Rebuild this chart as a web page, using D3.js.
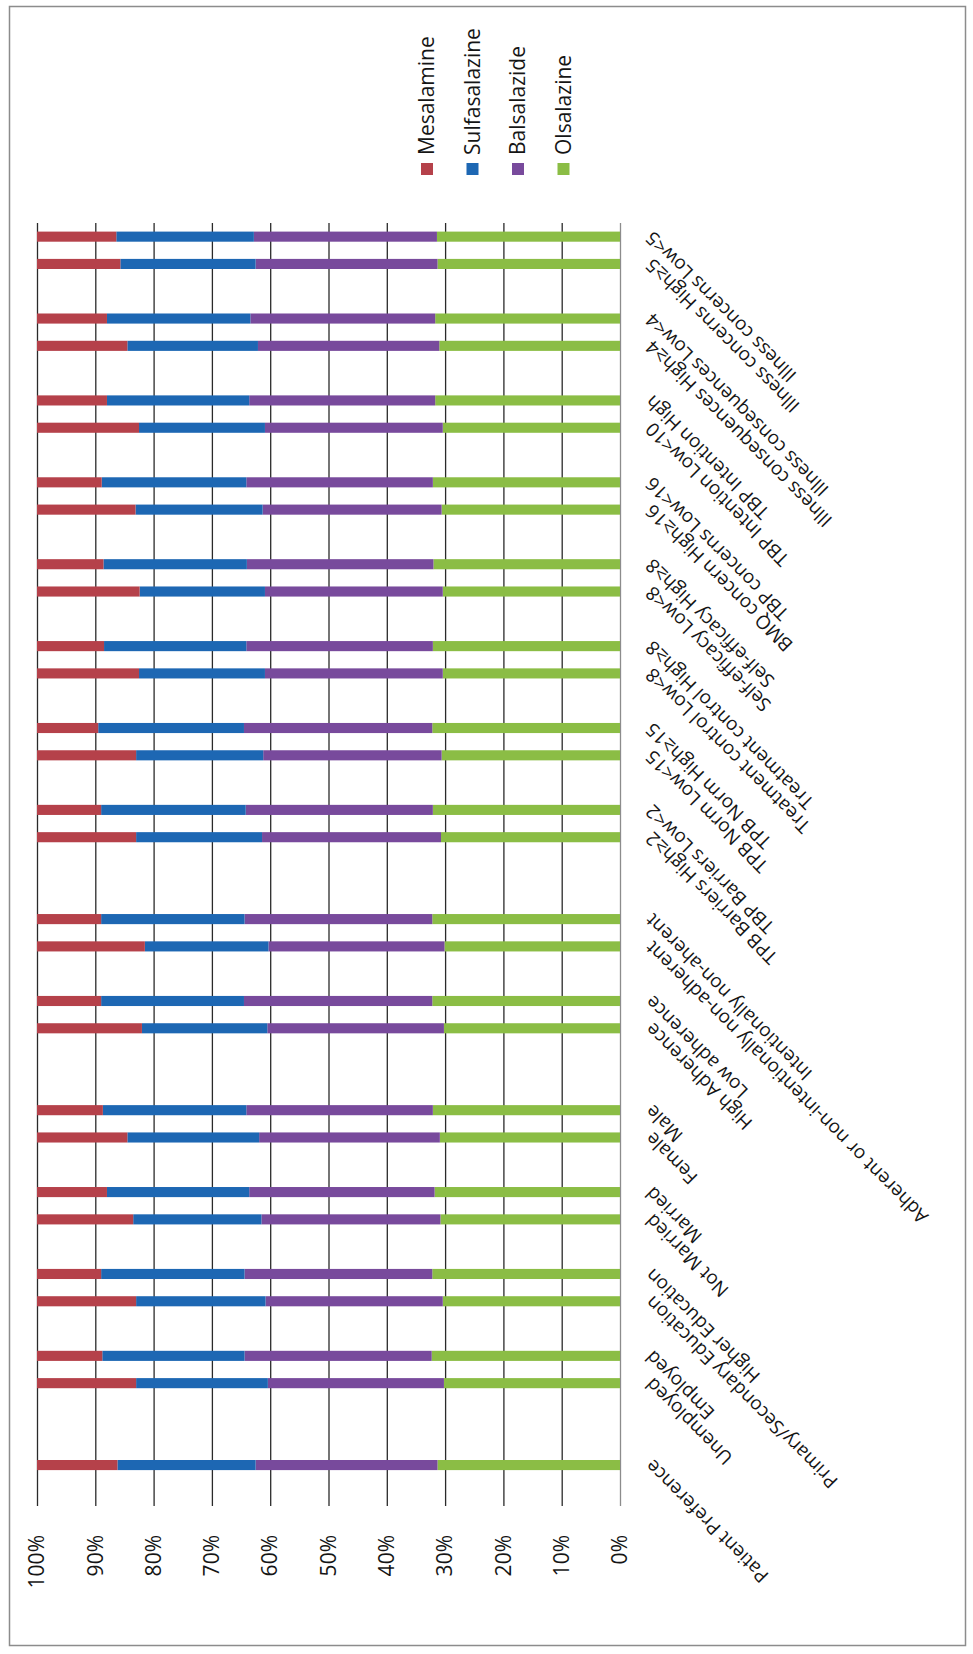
<!DOCTYPE html>
<html>
<head>
<meta charset="utf-8">
<script src="https://cdn.jsdelivr.net/npm/d3@7"></script>
<style>
  body { margin: 0; background: #fff; }
  svg text { font-family: "Open Sans", sans-serif; fill: #151515; }
</style>
</head>
<body>
<svg id="chart" width="973" height="1654"></svg>
<script>
// blank entries are the empty gaps Excel leaves between groups
const categories = ["", "Patient Preference", "", "", "Unemployed", "Employed", "",
  "Primary/Secondary Education", "Higher Education", "", "Not Married", "Married", "",
  "Female", "Male", "", "", "High Adherence", "Low adherence", "",
  "Adherent or non-intentionally non-adherent", "Intentionally non-aherent", "", "",
  "TPB Barriers High≥2", "TBP Barriers Low<2", "", "TPB Norm Low<15", "TPB Norm High≥15", "",
  "Treatment control Low<8", "Treatment control High≥8", "", "Self-efficacy Low<8", "Self-efficacy High≥8", "",
  "BMQ concern High≥16", "TBP concerns Low<16", "", "TBP Intention Low<10", "TBP Intention High", "",
  "Illness consequences High≥4", "Illness consequences Low<4", "", "Illness concerns High≥5", "Illness concerns Low<5"];

const mesalamine    = [null,13.8,null,null,17.0,11.2,null,17.0,11.0,null,16.5,12.0,null,15.5,11.3,null,null,18.0,11.0,null,18.5,11.0,null,null,17.0,11.0,null,17.0,10.5,null,17.5,11.5,null,17.6,11.4,null,16.9,11.1,null,17.5,12.0,null,15.5,12.0,null,14.3,13.6];
const sulfasalazine = [null,23.7,null,null,22.6,24.4,null,22.2,24.6,null,22.0,24.4,null,22.6,24.6,null,null,21.5,24.5,null,21.2,24.6,null,null,21.6,24.8,null,21.8,25.0,null,21.6,24.4,null,21.5,24.6,null,21.8,24.8,null,21.6,24.4,null,22.4,24.6,null,23.2,23.6];
const balsalazide   = [null,31.2,null,null,30.2,32.1,null,30.4,32.2,null,30.7,31.8,null,31.0,32.0,null,null,30.3,32.3,null,30.2,32.2,null,null,30.7,32.1,null,30.6,32.3,null,30.5,32.0,null,30.5,32.0,null,30.7,32.0,null,30.5,31.9,null,31.1,31.7,null,31.2,31.4];
const olsalazine    = [null,31.3,null,null,30.2,32.3,null,30.4,32.2,null,30.8,31.8,null,30.9,32.1,null,null,30.2,32.2,null,30.1,32.2,null,null,30.7,32.1,null,30.6,32.2,null,30.4,32.1,null,30.4,32.0,null,30.6,32.1,null,30.4,31.7,null,31.0,31.7,null,31.3,31.4];

const seriesNames = ["Olsalazine", "Balsalazide", "Sulfasalazine", "Mesalamine"]; // bottom to top of stack
const legendNames = ["Mesalamine", "Sulfasalazine", "Balsalazide", "Olsalazine"];
const colors = {Mesalamine: "#b5414a", Sulfasalazine: "#1d67b3", Balsalazide: "#784a9c", Olsalazine: "#8bbd45"};

const W = 973, H = 1654;
const svg = d3.select("#chart");

svg.append("rect")
  .attr("x", 9.5).attr("y", 6.5)
  .attr("width", 956).attr("height", 1639)
  .attr("fill", "none").attr("stroke", "#8c8c8c").attr("stroke-width", 1.5);

// the scanned chart lies on its side: draw it upright, then turn it
const g = svg.append("g").attr("transform", `translate(0,${H}) rotate(-90)`);

const plot = {left: 148, right: 1431, top: 37, bottom: 620};

const x = d3.scaleBand()
  .domain(d3.range(categories.length))
  .range([plot.left, plot.right])
  .paddingInner(0.63)
  .paddingOuter(0.315);

const y = d3.scaleLinear().domain([0, 1]).range([plot.bottom, plot.top]);

const rows = categories.map((c, i) => ({
  i: i, name: c,
  Mesalamine: mesalamine[i], Sulfasalazine: sulfasalazine[i],
  Balsalazide: balsalazide[i], Olsalazine: olsalazine[i]
})).filter(d => d.Mesalamine != null);

const stack = d3.stack().keys(seriesNames).offset(d3.stackOffsetExpand)(rows);

// gridlines + value labels
const yAxis = g.append("g")
  .attr("transform", `translate(${plot.left},0)`)
  .call(d3.axisLeft(y).ticks(10, ".0%").tickSize(-(plot.right - plot.left)).tickPadding(29));
yAxis.select(".domain").remove();
yAxis.selectAll(".tick line").attr("stroke", "#2a2a2a").attr("stroke-width", 1.3);
yAxis.selectAll(".tick text").attr("font-size", 21);
yAxis.selectAll(".tick").filter(d => d === 0).select("line").attr("stroke", "#8c8c8c");

g.append("g")
  .selectAll("g")
  .data(stack)
  .enter()
  .append("g")
  .attr("fill", s => colors[s.key])
  .selectAll("rect")
  .data(s => s)
  .enter()
  .append("rect")
  .attr("x", d => x(d.data.i))
  .attr("width", x.bandwidth())
  .attr("y", d => y(d[1]))
  .attr("height", d => y(d[0]) - y(d[1]));

// category labels, turned -45deg as Excel does
g.append("g")
  .selectAll("text")
  .data(rows)
  .enter()
  .append("text")
  .attr("transform", d => `translate(${x(d.i) + x.bandwidth() / 2 - 3},${plot.bottom + 24}) rotate(-45)`)
  .attr("text-anchor", "end")
  .attr("dy", "0.71em")
  .attr("font-size", 19)
  .text(d => d.name);

// legend
const legend = g.append("g")
  .selectAll("g")
  .data(legendNames)
  .enter()
  .append("g")
  .attr("transform", (d, k) => `translate(1479,${427 + k * 45.5})`);
legend.append("rect")
  .attr("x", 0).attr("y", -6)
  .attr("width", 12).attr("height", 12)
  .attr("fill", d => colors[d]);
legend.append("text")
  .attr("x", 20).attr("dy", "0.35em")
  .attr("font-size", 21)
  .text(d => d);
</script>
</body>
</html>
